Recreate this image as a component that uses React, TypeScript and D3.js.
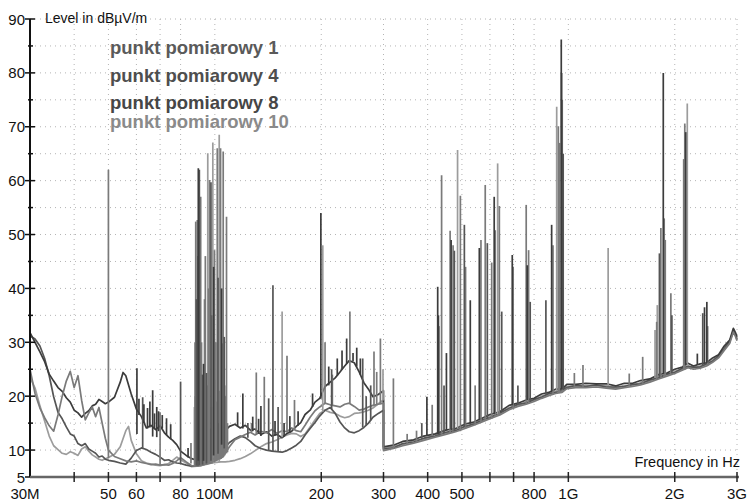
import React from "react";
import * as d3 from "d3";

// frequency in MHz, level in dBuV/m
type Pt = [number, number];
type Spike = [number, number, number]; // freq, base level, peak level

const xTicks = [40, 50, 60, 70, 80, 100, 200, 300, 400, 500, 600, 700, 800, 1000, 2000, 3000];
const xLabels: [number, string][] = [
  [30, "30M"], [50, "50"], [60, "60"], [80, "80"], [100, "100M"], [200, "200"],
  [300, "300"], [400, "400"], [500, "500"], [800, "800"], [1000, "1G"], [2000, "2G"], [3000, "3G"],
];
const yMajor = [5, 10, 20, 30, 40, 50, 60, 70, 80, 90];
const yMinor = [15, 25, 35, 45, 55, 65, 75, 85];
const yGrid = [10, 15, 20, 25, 30, 35, 40, 45, 50, 55, 60, 65, 70, 75, 80, 85, 90];

const seriesNames = ["punkt pomiarowy 1", "punkt pomiarowy 4", "punkt pomiarowy 8", "punkt pomiarowy 10"];
const labelColors = ["#5a5a5a", "#4e4e4e", "#464646", "#8a8a8a"];
const lineColors = ["#7a7a7a", "#3c3c3c", "#555555", "#9c9c9c"];

// punkt 1 (medium grey)
const p1Low: Pt[] = [
  [30, 25.0], [31, 20.5], [32, 17.8], [33, 16.0], [34, 14.5], [35, 13.5], [36, 16.5], [37, 20.0], [38, 22.8], [39, 24.6],
  [40, 21.6], [41, 23.8], [42, 19.2], [43, 15.6], [44, 16.9], [45, 18.0], [46, 16.2], [47, 17.9], [48, 15.0], [49, 12.2],
  [50, 10.0], [52, 8.8], [54, 8.4], [56, 8.0], [58, 7.8], [60, 8.0], [62, 7.7], [64, 7.5], [66, 7.3], [68, 7.4],
  [70, 7.2], [72, 7.3], [74, 7.2], [76, 7.5], [78, 8.0], [80, 8.6], [83, 7.8], [86, 7.1], [89, 7.0], [92, 7.2],
  [95, 7.4], [98, 7.6], [101, 8.1], [104, 8.5], [107, 9.4], [110, 10.6], [114, 11.9], [118, 12.4], [122, 12.9], [126, 13.3],
  [130, 12.8], [135, 13.5], [140, 13.2], [145, 13.8], [150, 13.1], [155, 13.6], [160, 13.4], [165, 14.1], [170, 13.6], [175, 13.4],
  [180, 14.6], [186, 16.1], [192, 17.3], [198, 18.0], [205, 18.7], [212, 18.4], [219, 18.2], [226, 18.0], [233, 18.5], [240, 18.7],
  [248, 18.1], [256, 17.4], [264, 17.6], [272, 18.0], [280, 18.3], [290, 18.5], [300, 18.7],
];
const p1High: Pt[] = [
  [300, 9.9], [320, 10.3], [340, 10.8], [365, 11.3], [390, 11.8], [420, 12.4], [450, 12.9], [480, 13.4], [510, 14.0], [540, 14.6],
  [570, 15.2], [600, 15.8], [640, 16.5], [680, 17.5], [720, 18.1], [760, 18.5], [800, 19.0], [840, 19.6], [880, 20.1], [920, 20.5],
  [960, 20.7], [990, 21.4], [1050, 21.6], [1120, 21.6], [1200, 21.7], [1280, 21.5], [1360, 21.3], [1440, 21.6], [1520, 21.8], [1600, 22.1],
  [1700, 22.6], [1800, 23.2], [1900, 23.7], [2000, 24.2], [2100, 24.8], [2180, 25.3], [2260, 25.0], [2360, 25.2], [2460, 25.6], [2560, 26.3],
  [2660, 27.1], [2760, 28.5], [2860, 29.8], [2930, 31.9], [2970, 31.1], [3000, 30.3],
];
const p1Spikes: Spike[] = [
  [50, 8.5, 62], [70, 7.2, 17], [85.6, 7.5, 11.3], [87.6, 7, 18], [87.9, 7, 30], [88.0, 7, 20], [88.3, 7, 52.4], [88.9, 7, 16],
  [89.2, 7, 52.7], [89.5, 7, 22], [90.1, 7, 18], [90.8, 7, 40], [91.2, 7, 57], [91.7, 7, 30], [92.0, 7.2, 21], [92.6, 7.2, 15],
  [93.2, 7.2, 19], [93.5, 7.3, 38], [94.0, 7.3, 46], [94.4, 7.4, 17], [95.2, 7.5, 22], [96.0, 7.5, 40], [96.6, 7.5, 60.1],
  [97.0, 7.5, 14], [97.9, 7.6, 18], [98.1, 7.6, 35], [99.5, 7.8, 16], [99.8, 8, 47.1], [100.2, 8, 23], [100.7, 8, 30],
  [101.0, 8, 19], [101.6, 8.1, 66], [102.5, 8.2, 15], [103.3, 8.3, 21], [103.8, 8.4, 66], [104.2, 8.4, 18], [104.9, 8.5, 29.8],
  [105.6, 8.6, 65.4], [106.0, 8.8, 17], [106.6, 9, 22], [107.0, 9.2, 20], [107.9, 9.4, 53.3], [108.6, 9.6, 15],
  [127, 13.3, 15], [131, 12.9, 24.4], [138, 13.3, 23.6], [160, 13.4, 27.5], [168, 13.8, 19.3], [205, 18.7, 30],
  [215, 18.3, 24], [241, 18.7, 35.7], [282, 18.3, 28.3], [287, 18.4, 24.5], [294, 18.5, 30.7],
  [320, 10.3, 23.3], [350, 11, 13], [372, 11.5, 13.6], [412, 12.6, 18.4], [438, 12.9, 61], [463, 13.1, 50.7], [472, 13.2, 48],
  [495, 13.5, 57.2], [512, 14, 44], [545, 14.6, 22], [566, 15.1, 49], [582, 15.4, 59.2], [607, 15.8, 44.8], [621, 16.2, 50.8],
  [638, 16.5, 55.3], [698, 17.8, 44], [760, 18.5, 55.5], [772, 18.6, 47.1], [905, 20.3, 48], [937, 20.6, 70.1], [944, 20.6, 67],
  [961, 20.7, 75], [1040, 21.6, 24.3], [1100, 21.6, 25.8], [1487, 21.8, 24.2], [1623, 22.2, 27.3], [1778, 23.1, 33.8],
  [1827, 23.4, 51.2], [1867, 23.6, 53], [1880, 23.6, 49], [1950, 24, 39.1], [2120, 24.9, 64], [2135, 25, 70.6], [2478, 25.7, 33],
];

// punkt 4 (darkest)
const p4Low: Pt[] = [
  [30, 31.8], [31, 30.0], [32, 28.2], [33, 26.4], [34, 24.1], [35, 22.8], [36, 21.6], [37, 20.9], [38, 19.7], [39, 18.9],
  [40, 17.4], [41, 16.9], [42, 16.1], [43, 16.8], [44, 17.3], [45, 18.2], [46, 18.5], [47, 19.4], [48, 19.0], [49, 18.6],
  [50, 18.9], [52, 19.8], [54, 22.6], [55, 24.4], [56, 23.8], [58, 20.4], [60, 17.6], [62, 16.2], [64, 14.1], [66, 14.6],
  [68, 13.8], [70, 14.5], [72, 13.2], [74, 12.4], [76, 11.8], [78, 11.0], [80, 9.8], [83, 9.0], [86, 8.4], [89, 8.1],
  [92, 8.3], [95, 8.6], [98, 9.4], [101, 10.8], [104, 12.2], [107, 13.6], [110, 14.4], [114, 14.8], [118, 14.1], [122, 14.6],
  [126, 13.7], [130, 13.9], [135, 12.9], [140, 13.4], [145, 12.6], [150, 12.9], [155, 12.3], [160, 13.1], [165, 13.5], [170, 14.4],
  [175, 15.1], [180, 16.6], [186, 17.4], [192, 18.9], [198, 19.6], [205, 21.8], [212, 22.6], [219, 23.4], [226, 24.5], [233, 25.6],
  [240, 26.6], [248, 26.2], [256, 24.5], [264, 22.5], [272, 21.3], [280, 19.9], [290, 20.3], [300, 21.0],
];
const p4High: Pt[] = [
  [300, 10.6], [320, 10.9], [340, 11.6], [365, 11.9], [390, 12.6], [420, 13.0], [450, 13.7], [480, 14.0], [510, 14.8], [540, 15.2],
  [570, 15.9], [600, 16.6], [640, 17.1], [680, 18.3], [720, 18.7], [760, 19.3], [800, 19.6], [840, 20.4], [880, 20.7], [920, 21.3],
  [960, 21.3], [990, 22.2], [1050, 22.2], [1120, 22.4], [1200, 22.3], [1280, 22.3], [1360, 21.9], [1440, 22.4], [1520, 22.4], [1600, 22.9],
  [1700, 23.2], [1800, 24.0], [1900, 24.3], [2000, 25.0], [2100, 25.4], [2180, 26.1], [2260, 25.6], [2360, 26.0], [2460, 26.2], [2560, 27.1],
  [2660, 27.7], [2760, 29.3], [2860, 30.4], [2930, 32.6], [2970, 31.8], [3000, 31.0],
];
const p4Spikes: Spike[] = [
  [60.2, 13, 25.2], [61, 16.5, 19.5], [63, 15, 18.5], [64.5, 14, 17.8], [65.5, 14.2, 19], [66.7, 12.5, 21.1], [67.5, 14, 16.8],
  [68.5, 12.4, 18], [69.3, 13.5, 17.2], [71, 14, 16.5], [73, 12.8, 15.9], [75, 12, 14.8], [84, 8.6, 10.4], [89.8, 8, 62.3],
  [92.9, 8, 26], [99.2, 9, 44], [104.5, 11, 40], [116, 14.5, 17], [120, 14, 20.5], [128, 13.5, 16.2], [133, 13, 15.8],
  [135, 12.6, 18.2], [148, 12.7, 15.4], [157, 12.5, 15], [163, 13.2, 16.3], [172, 14.5, 17.2], [189, 18, 20.5],
  [199.5, 19.5, 54], [210, 22, 25.5], [222, 23.8, 27], [229, 25, 28.5], [236, 26, 30.7], [246, 26.5, 28], [252, 25.5, 29],
  [258, 24, 27],
  [398, 12.6, 19.9], [427, 13, 40.3], [429, 13, 35], [452, 13.7, 28], [466, 13.8, 49], [528, 14.9, 37.8], [560, 15.6, 47.5],
  [617, 16.7, 57], [694, 18.3, 46.2], [765, 19.3, 44.3], [897, 20.9, 51.8], [955, 21.3, 86.2], [957, 21.3, 80],
  [1856, 24.1, 80], [2148, 25.8, 69], [2317, 25.8, 27.9], [2428, 26.1, 36.5], [2465, 26.2, 37.5],
];

// punkt 8 (dark grey)
const p8Low: Pt[] = [
  [30, 31.2], [31, 30.6], [32, 29.3], [33, 27.0], [34, 23.8], [35, 19.9], [36, 17.0], [37, 15.8], [38, 14.3], [39, 13.0],
  [40, 12.6], [41, 11.2], [42, 10.8], [43, 11.2], [44, 10.2], [45, 9.8], [46, 9.4], [47, 8.7], [48, 8.9], [49, 8.3],
  [50, 8.1], [52, 7.9], [54, 7.6], [56, 7.4], [58, 8.5], [60, 9.9], [62, 10.4], [64, 10.1], [66, 9.6], [68, 9.2],
  [70, 8.7], [72, 8.1], [74, 8.2], [76, 7.8], [78, 7.6], [80, 7.5], [83, 7.2], [86, 7.0], [89, 7.1], [92, 7.3],
  [95, 7.6], [98, 8.1], [101, 8.8], [104, 9.6], [107, 10.5], [110, 11.4], [114, 12.1], [118, 12.6], [122, 12.3], [126, 11.6],
  [130, 10.8], [135, 10.3], [140, 10.0], [145, 9.8], [150, 9.7], [155, 9.6], [160, 9.9], [165, 10.4], [170, 10.9], [175, 11.6],
  [180, 12.8], [186, 14.0], [192, 15.1], [198, 16.3], [205, 17.4], [212, 17.9], [219, 16.8], [226, 15.2], [233, 14.1], [240, 13.4],
  [248, 13.2], [256, 13.6], [264, 14.2], [272, 15.0], [280, 16.1], [290, 16.8], [300, 17.4],
];
const p8High: Pt[] = [
  [300, 10.2], [320, 10.4], [340, 11.2], [365, 11.5], [390, 12.2], [420, 12.6], [450, 13.3], [480, 13.6], [510, 14.4], [540, 14.8],
  [570, 15.6], [600, 16.0], [640, 16.9], [680, 17.7], [720, 18.5], [760, 18.7], [800, 19.4], [840, 19.8], [880, 20.5], [920, 20.7],
  [960, 21.1], [990, 21.6], [1050, 22.0], [1120, 21.8], [1200, 22.1], [1280, 21.7], [1360, 21.7], [1440, 21.8], [1520, 22.2], [1600, 22.3],
  [1700, 23.0], [1800, 23.4], [1900, 24.1], [2000, 24.4], [2100, 25.2], [2180, 25.5], [2260, 25.4], [2360, 25.4], [2460, 26.0], [2560, 26.5],
  [2660, 27.5], [2760, 28.7], [2860, 30.2], [2930, 32.1], [2970, 31.5], [3000, 30.5],
];
const p8Spikes: Spike[] = [
  [62.5, 10.4, 19.8], [80, 7.5, 22.7], [88.7, 7.1, 38], [89.6, 7.1, 46], [90.4, 7.2, 62], [92.3, 7.3, 24], [94.7, 7.5, 24.3],
  [97.5, 8, 59.7], [102.1, 9.3, 42], [106.3, 10.3, 31], [124, 12.3, 15], [142, 10, 19.6], [146, 9.8, 40.6], [151, 9.7, 18],
  [214, 17.6, 25], [262, 14.2, 27], [268, 14.5, 20], [276, 15.5, 22],
  [385, 12.1, 15], [430, 12.7, 33], [445, 13.1, 22], [476, 13.5, 47], [508, 14.3, 51.8], [590, 15.9, 48.4], [648, 17.1, 35.7],
  [720, 18.5, 22], [780, 19, 37.5], [864, 20.3, 37.8], [967, 21.2, 65], [1810, 23.6, 46.5], [1963, 24.3, 35], [2400, 25.6, 35.4],
];

// punkt 10 (light grey)
const p10Low: Pt[] = [
  [30, 23.5], [31, 21.5], [32, 18.2], [33, 15.4], [34, 12.6], [35, 10.8], [36, 10.1], [37, 9.4], [38, 9.2], [39, 9.7],
  [40, 9.4], [41, 9.0], [42, 10.2], [43, 10.6], [44, 9.8], [45, 9.1], [46, 8.7], [47, 8.3], [48, 8.1], [49, 8.4],
  [50, 8.6], [52, 9.2], [54, 10.6], [56, 13.6], [57, 14.4], [58, 11.8], [60, 9.3], [62, 8.0], [64, 7.6], [66, 7.4],
  [68, 7.2], [70, 7.1], [72, 7.3], [74, 7.5], [76, 8.1], [78, 8.7], [80, 8.2], [83, 7.6], [86, 6.9], [89, 7.0],
  [92, 7.2], [95, 7.5], [98, 7.6], [101, 7.7], [104, 7.8], [107, 7.8], [110, 7.9], [114, 8.1], [118, 8.4], [122, 8.8],
  [126, 9.3], [130, 9.9], [135, 10.6], [140, 11.2], [145, 11.5], [150, 11.9], [155, 12.4], [160, 12.8], [165, 13.1], [170, 13.0],
  [175, 12.5], [180, 13.0], [186, 14.3], [192, 15.6], [198, 16.8], [205, 17.4], [212, 17.0], [219, 16.8], [226, 16.3], [233, 16.0],
  [240, 16.2], [248, 16.8], [256, 16.9], [264, 17.1], [272, 17.4], [280, 17.8], [290, 18.6], [300, 19.3],
];
const p10High: Pt[] = [
  [300, 10.3], [320, 10.7], [340, 11.0], [365, 11.8], [390, 12.0], [420, 12.9], [450, 13.1], [480, 13.9], [510, 14.2], [540, 15.0],
  [570, 15.4], [600, 16.3], [640, 16.7], [680, 17.9], [720, 18.3], [760, 18.9], [800, 19.2], [840, 20.0], [880, 20.3], [920, 20.9],
  [960, 20.9], [990, 21.8], [1050, 21.8], [1120, 22.0], [1200, 21.9], [1280, 21.9], [1360, 21.5], [1440, 22.0], [1520, 22.0], [1600, 22.5],
  [1700, 22.8], [1800, 23.6], [1900, 23.9], [2000, 24.6], [2100, 25.0], [2180, 25.7], [2260, 25.2], [2360, 25.6], [2460, 25.8], [2560, 26.7],
  [2660, 27.3], [2760, 28.9], [2860, 30.0], [2930, 32.3], [2970, 31.3], [3000, 30.7],
];
const p10Spikes: Spike[] = [
  [95.5, 7.5, 65.1], [98.7, 7.6, 67.1], [102.9, 7.8, 68.5], [155, 12.4, 35.7], [202, 17.1, 48], [299, 19.2, 25],
  [486, 14, 65.7], [631, 16.6, 63.2], [927, 20.9, 73.7], [1296, 21.9, 47.5], [1759, 23.4, 32.3], [1785, 23.5, 36.9], [2170, 25.6, 74.3],
];

const W = 747;
const H = 502;

export default function App() {
  const x = d3.scaleLog().domain([30, 3000]).range([30, 737]);
  const y = d3.scaleLinear().domain([5, 90]).range([477, 19]);

  const line = d3
    .line<Pt>()
    .x((d) => x(d[0]))
    .y((d) => y(d[1]));

  const p1 = { data: [...p1Low, ...p1High], spikes: p1Spikes, color: lineColors[0] };
  const p4 = { data: [...p4Low, ...p4High], spikes: p4Spikes, color: lineColors[1] };
  const p8 = { data: [...p8Low, ...p8High], spikes: p8Spikes, color: lineColors[2] };
  const p10 = { data: [...p10Low, ...p10High], spikes: p10Spikes, color: lineColors[3] };

  // floors: medium trace on top, spikes: darkest on top
  const floorOrder = [p10, p8, p4, p1];
  const spikeOrder = [p10, p1, p8, p4];

  const font = "Arial, 'Liberation Sans', sans-serif";

  return (
    <div style={{ position: "absolute", left: 0, top: 0 }}>
      <svg width={W} height={H} style={{ display: "block", background: "#fff" }}>
        {/* grid */}
        <g stroke="#b4b4b4" strokeWidth={1} strokeDasharray="1 4">
          {yGrid.map((v) => (
            <line key={"h" + v} x1={x(30)} x2={x(3000)} y1={y(v)} y2={y(v)} />
          ))}
          {xTicks.map((f) => (
            <line key={"v" + f} x1={x(f)} x2={x(f)} y1={y(90)} y2={y(5)} />
          ))}
        </g>

        {/* traces */}
        {floorOrder.map((s, i) => (
          <path
            key={"f" + i}
            d={line(s.data) || ""}
            fill="none"
            stroke={s.color}
            strokeWidth={1.7}
            strokeLinejoin="round"
          />
        ))}
        {spikeOrder.map((s, i) => (
          <g key={"s" + i} stroke={s.color} strokeWidth={1.7}>
            {s.spikes.map((sp, j) => (
              <line key={j} x1={x(sp[0])} x2={x(sp[0])} y1={y(sp[1])} y2={y(sp[2])} />
            ))}
          </g>
        ))}

        {/* y axis */}
        <line x1={x(30)} x2={x(30)} y1={y(90)} y2={y(5)} stroke="#111" strokeWidth={2} />
        {yMajor.map((v) => (
          <g key={"ym" + v}>
            <line x1={x(30) - 5} x2={x(30) + 5} y1={y(v)} y2={y(v)} stroke="#111" strokeWidth={1.5} />
            <text x={25} y={y(v) + 5.5} textAnchor="end" fontFamily={font} fontSize={15} fill="#111">
              {v}
            </text>
          </g>
        ))}
        {yMinor.map((v) => (
          <line key={"yn" + v} x1={x(30) - 2} x2={x(30) + 3} y1={y(v)} y2={y(v)} stroke="#111" strokeWidth={1.5} />
        ))}

        {/* x axis */}
        <line x1={x(30)} x2={x(3000) + 2} y1={y(5)} y2={y(5)} stroke="#666" strokeWidth={2.5} />
        {xTicks.map((f) => (
          <line key={"xt" + f} x1={x(f)} x2={x(f)} y1={y(5) - 5} y2={y(5) + 5} stroke="#222" strokeWidth={1.5} />
        ))}
        {xLabels.map(([f, t], i) => (
          <text
            key={"xl" + f}
            x={x(f) - (i === 0 ? 5 : 0)}
            y={499}
            textAnchor="middle"
            fontFamily={font}
            fontSize={15}
            fill="#111"
          >
            {t}
          </text>
        ))}

        {/* axis titles */}
        <text x={45} y={23} fontFamily={font} fontSize={14} fill="#111">
          Level in dBµV/m
        </text>
        <text x={740} y={467} textAnchor="end" fontFamily={font} fontSize={14.5} fill="#111">
          Frequency in Hz
        </text>

        {/* legend */}
        {seriesNames.map((n, i) => (
          <text
            key={n}
            x={110}
            y={[54, 82, 109, 128][i]}
            fontFamily={font}
            fontSize={18.5}
            fontWeight="bold"
            fill={labelColors[i]}
          >
            {n}
          </text>
        ))}
      </svg>
    </div>
  );
}
